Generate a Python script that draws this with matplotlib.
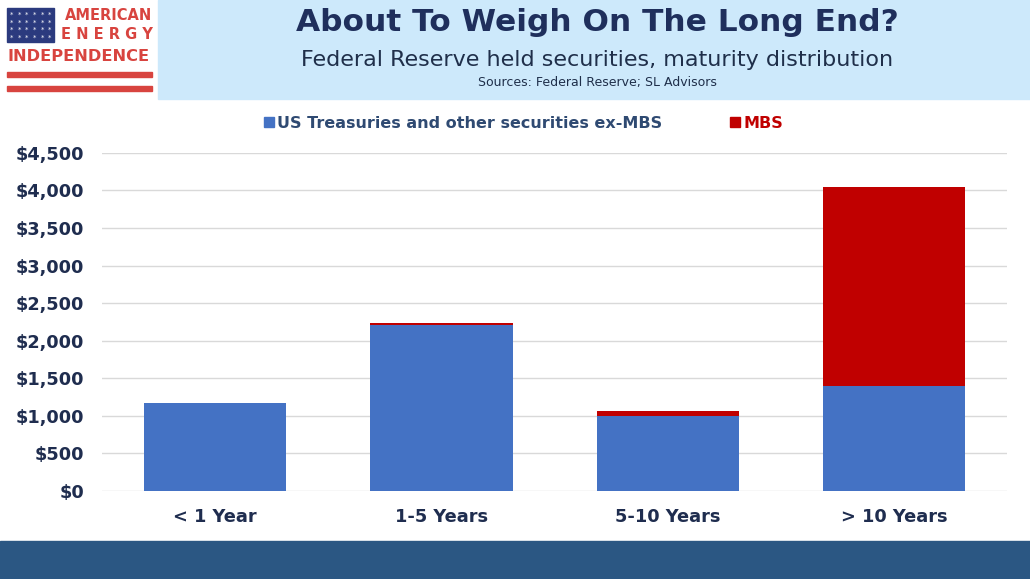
"""Fed held securities by maturity, stacked bars"""

import matplotlib
matplotlib.use("Agg")
import matplotlib.pyplot as plt
from matplotlib.patches import Rectangle
from matplotlib.lines import Line2D
from matplotlib.ticker import FuncFormatter

# values in $bn
categories = ["< 1 Year", "1-5 Years", "5-10 Years", "> 10 Years"]
treasuries = [1170, 2215, 1000, 1400]
mbs = [0, 15, 68, 2650]
series_names = ["US Treasuries and other securities ex-MBS", "MBS"]

BLUE = "#4472c4"
RED = "#c00000"
NAVY = "#1f2d4f"

fig = plt.figure(figsize=(10.3, 5.79), dpi=100)
ax = fig.add_axes([0.099, 0.152, 0.879, 0.584])

x = range(len(categories))
ax.bar(x, treasuries, width=0.63, color=BLUE, zorder=3)
ax.bar(x, mbs, width=0.63, bottom=treasuries, color=RED, zorder=3)

ax.set_xlim(-0.5, 3.5)
ax.set_ylim(0, 4500)
ax.set_yticks(range(0, 4501, 500))
ax.yaxis.set_major_formatter(FuncFormatter(lambda v, _: f"${v:,.0f}"))
ax.set_xticks(list(x))
ax.set_xticklabels(categories)
ax.grid(axis="y", color="#d9d9d9", lw=1, zorder=0)
for side in ["top", "right", "left", "bottom"]:
    ax.spines[side].set_visible(False)
ax.tick_params(length=0, colors=NAVY, labelsize=12.8)
ax.tick_params(axis="y", pad=13)
ax.tick_params(axis="x", pad=12)
for lab in ax.get_xticklabels() + ax.get_yticklabels():
    lab.set_fontweight("bold")

# legend
handles = [
    Line2D([], [], marker="s", ls="", color=BLUE, markersize=6.5),
    Line2D([], [], marker="s", ls="", color=RED, markersize=6.5),
]
leg = fig.legend(
    handles, series_names, loc="center", bbox_to_anchor=(0.503, 0.787),
    ncol=2, frameon=False, handletextpad=-0.5, columnspacing=3.6,
    labelcolor=["#2f4a72", RED], prop={"weight": "bold", "size": 11.5},
)

# header box
fig.patches.append(Rectangle((0.153, 0.829), 0.847, 0.171, transform=fig.transFigure,
                             color="#cde9fb", zorder=0))
fig.text(0.58, 0.962, "About To Weigh On The Long End?", ha="center", va="center",
         fontsize=22.5, fontweight="bold", color="#1f2f5c")
fig.text(0.58, 0.897, "Federal Reserve held securities, maturity distribution",
         ha="center", va="center", fontsize=16, color="#1f2f4a")
fig.text(0.58, 0.858, "Sources: Federal Reserve; SL Advisors", ha="center",
         va="center", fontsize=9, color="#1f2f4a")

# logo
LOGO_RED = "#d8443f"
fig.patches.append(Rectangle((0.007, 0.927), 0.045, 0.059, transform=fig.transFigure,
                             color="#2b3a7e"))
for i in range(6):
    for j in range(4):
        fig.text(0.011 + i * 0.0075, 0.935 + j * 0.013, "*", color="white",
                 fontsize=5, ha="center", va="center")
fig.text(0.148, 0.973, "AMERICAN", ha="right", va="center", fontsize=10.5,
         fontweight="bold", color=LOGO_RED)
fig.text(0.148, 0.940, "E N E R G Y", ha="right", va="center", fontsize=10.5,
         fontweight="bold", color=LOGO_RED)
fig.text(0.0075, 0.903, "INDEPENDENCE", ha="left", va="center", fontsize=11.7,
         fontweight="bold", color=LOGO_RED)
fig.patches.append(Rectangle((0.007, 0.867), 0.141, 0.009, transform=fig.transFigure,
                             color=LOGO_RED))
fig.patches.append(Rectangle((0.007, 0.843), 0.141, 0.009, transform=fig.transFigure,
                             color=LOGO_RED))

# bottom band
fig.patches.append(Rectangle((0, 0), 1, 0.065, transform=fig.transFigure,
                             color="#2b5783"))

fig.savefig("out.png", dpi=100)
